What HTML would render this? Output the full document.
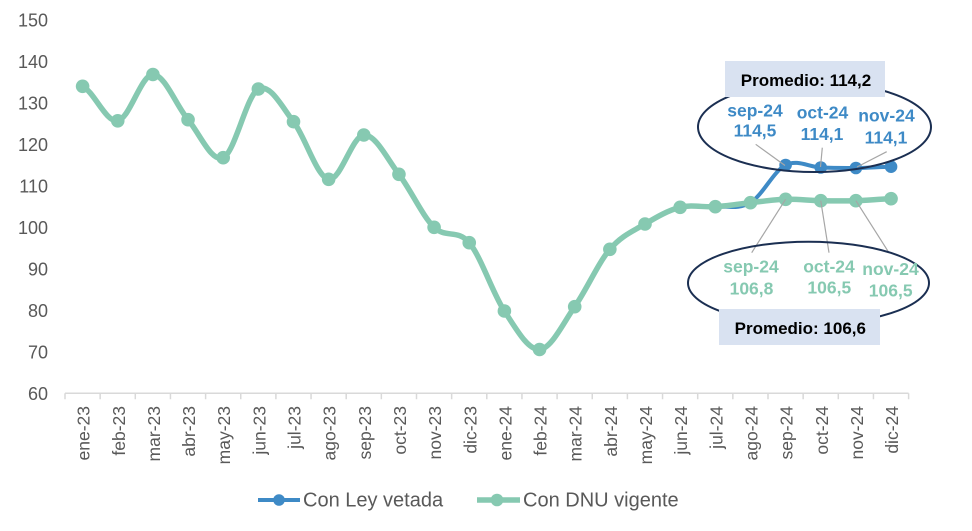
<!DOCTYPE html>
<html>
<head>
<meta charset="utf-8">
<style>
  html, body { margin:0; padding:0; background:#ffffff; }
  svg { display:block; }
  text { font-family: "Liberation Sans", Arial, sans-serif; }
</style>
</head>
<body>
<svg width="972" height="531" viewBox="0 0 972 531" xmlns="http://www.w3.org/2000/svg">
  <rect x="0" y="0" width="972" height="531" fill="#ffffff"/>

  <!-- Y axis labels -->
  <g font-size="18" fill="#595959" text-anchor="end">
    <text x="48" y="26.5">150</text>
    <text x="48" y="68">140</text>
    <text x="48" y="109.5">130</text>
    <text x="48" y="151">120</text>
    <text x="48" y="192.5">110</text>
    <text x="48" y="234">100</text>
    <text x="48" y="275.5">90</text>
    <text x="48" y="317">80</text>
    <text x="48" y="358.5">70</text>
    <text x="48" y="400">60</text>
  </g>

  <!-- X axis -->
  <g stroke="#D9D9D9" stroke-width="1.5" fill="none">
    <line x1="65" y1="393.3" x2="908.6" y2="393.3"/>
    <path d="M65,393.3v6 M100.15,393.3v6 M135.3,393.3v6 M170.45,393.3v6 M205.6,393.3v6 M240.75,393.3v6 M275.9,393.3v6 M311.05,393.3v6 M346.2,393.3v6 M381.35,393.3v6 M416.5,393.3v6 M451.65,393.3v6 M486.8,393.3v6 M521.95,393.3v6 M557.1,393.3v6 M592.25,393.3v6 M627.4,393.3v6 M662.55,393.3v6 M697.7,393.3v6 M732.85,393.3v6 M768,393.3v6 M803.15,393.3v6 M838.3,393.3v6 M873.45,393.3v6 M908.6,393.3v6"/>
  </g>

  <!-- X axis labels -->
  <g font-size="17.5" fill="#595959" text-anchor="end">
    <text transform="translate(89.6,406) rotate(-90)">ene-23</text>
    <text transform="translate(124.75,406) rotate(-90)">feb-23</text>
    <text transform="translate(159.9,406) rotate(-90)">mar-23</text>
    <text transform="translate(195.05,406) rotate(-90)">abr-23</text>
    <text transform="translate(230.2,406) rotate(-90)">may-23</text>
    <text transform="translate(265.35,406) rotate(-90)">jun-23</text>
    <text transform="translate(300.5,406) rotate(-90)">jul-23</text>
    <text transform="translate(335.65,406) rotate(-90)">ago-23</text>
    <text transform="translate(370.8,406) rotate(-90)">sep-23</text>
    <text transform="translate(405.95,406) rotate(-90)">oct-23</text>
    <text transform="translate(441.1,406) rotate(-90)">nov-23</text>
    <text transform="translate(476.25,406) rotate(-90)">dic-23</text>
    <text transform="translate(511.4,406) rotate(-90)">ene-24</text>
    <text transform="translate(546.55,406) rotate(-90)">feb-24</text>
    <text transform="translate(581.7,406) rotate(-90)">mar-24</text>
    <text transform="translate(616.85,406) rotate(-90)">abr-24</text>
    <text transform="translate(652,406) rotate(-90)">may-24</text>
    <text transform="translate(687.15,406) rotate(-90)">jun-24</text>
    <text transform="translate(722.3,406) rotate(-90)">jul-24</text>
    <text transform="translate(757.45,406) rotate(-90)">ago-24</text>
    <text transform="translate(792.6,406) rotate(-90)">sep-24</text>
    <text transform="translate(827.75,406) rotate(-90)">oct-24</text>
    <text transform="translate(862.9,406) rotate(-90)">nov-24</text>
    <text transform="translate(898.05,406) rotate(-90)">dic-24</text>
  </g>

  <!-- Blue series (Con Ley vetada) -->
  <path fill="none" stroke="#3E8AC6" stroke-width="4" stroke-linejoin="round" stroke-linecap="round"
    d="M680.15,207.3 C691.87,204.42 703.58,207.47 715.3,206.7 C727.02,205.93 738.73,209.65 750.45,202.7 C762.17,195.75 773.88,170.87 785.6,165 C797.32,159.13 809.03,167.0 820.75,167.5 C832.47,168.0 844.18,168.13 855.9,168.0 C867.62,167.87 879.33,166.92 891.05,166.7"/>
  <g fill="#3E8AC6">
    <circle cx="785.6" cy="165" r="6.3"/>
    <circle cx="820.75" cy="167.5" r="6.3"/>
    <circle cx="855.9" cy="168" r="6.3"/>
    <circle cx="891.05" cy="166.7" r="6.3"/>
  </g>

  <!-- Green series (Con DNU vigente) -->
  <path fill="none" stroke="#86C9B1" stroke-width="5.5" stroke-linejoin="round" stroke-linecap="round"
    d="M82.6,86.3 C94.32,92.05 106.03,122.77 117.75,120.8 C129.47,118.83 141.18,74.68 152.9,74.5 C164.62,74.32 176.33,105.83 188.05,119.7 C199.77,133.57 211.48,162.82 223.2,157.7 C234.92,152.58 246.63,95.0 258.35,89.0 C270.07,83.0 281.78,106.65 293.5,121.7 C305.22,136.75 316.93,177.08 328.65,179.3 C340.37,181.52 352.08,135.83 363.8,135.0 C375.52,134.17 387.23,158.92 398.95,174.3 C410.67,189.68 422.38,215.9 434.1,227.3 C445.82,238.7 457.53,228.75 469.25,242.7 C480.97,256.65 492.68,293.2 504.4,311.0 C516.12,328.8 527.83,350.22 539.55,349.5 C551.27,348.78 562.98,323.4 574.7,306.7 C586.42,290.0 598.13,263.08 609.85,249.3 C621.57,235.52 633.28,231.0 645.0,224.0 C656.72,217.0 668.43,210.18 680.15,207.3 C691.87,204.42 703.58,207.47 715.3,206.7 C727.02,205.93 738.73,203.93 750.45,202.7 C762.17,201.47 773.88,199.63 785.6,199.3 C797.32,198.97 809.03,200.47 820.75,200.7 C832.47,200.93 844.18,201.03 855.9,200.7 C867.62,200.37 879.33,199.03 891.05,198.7"/>
  <g fill="#86C9B1">
    <circle cx="82.6" cy="86.3" r="6.8"/>
    <circle cx="117.75" cy="120.8" r="6.8"/>
    <circle cx="152.9" cy="74.5" r="6.8"/>
    <circle cx="188.05" cy="119.7" r="6.8"/>
    <circle cx="223.2" cy="157.7" r="6.8"/>
    <circle cx="258.35" cy="89.0" r="6.8"/>
    <circle cx="293.5" cy="121.7" r="6.8"/>
    <circle cx="328.65" cy="179.3" r="6.8"/>
    <circle cx="363.8" cy="135.0" r="6.8"/>
    <circle cx="398.95" cy="174.3" r="6.8"/>
    <circle cx="434.1" cy="227.3" r="6.8"/>
    <circle cx="469.25" cy="242.7" r="6.8"/>
    <circle cx="504.4" cy="311.0" r="6.8"/>
    <circle cx="539.55" cy="349.5" r="6.8"/>
    <circle cx="574.7" cy="306.7" r="6.8"/>
    <circle cx="609.85" cy="249.3" r="6.8"/>
    <circle cx="645.0" cy="224.0" r="6.8"/>
    <circle cx="680.15" cy="207.3" r="6.8"/>
    <circle cx="715.3" cy="206.7" r="6.8"/>
    <circle cx="750.45" cy="202.7" r="6.8"/>
    <circle cx="785.6" cy="199.3" r="6.8"/>
    <circle cx="820.75" cy="200.7" r="6.8"/>
    <circle cx="855.9" cy="200.7" r="6.8"/>
    <circle cx="891.05" cy="198.7" r="6.8"/>
  </g>

  <!-- Leader lines -->
  <g stroke="#A6A6A6" stroke-width="1.2" fill="none">
    <line x1="755.7" y1="144.3" x2="785" y2="165.5"/>
    <line x1="822.3" y1="147.7" x2="820.5" y2="167"/>
    <line x1="886.7" y1="151.7" x2="857" y2="167"/>
    <line x1="785.6" y1="199.3" x2="751.7" y2="252.7"/>
    <line x1="820.75" y1="200.7" x2="829" y2="252.7"/>
    <line x1="855.9" y1="200.7" x2="888.3" y2="251.7"/>
  </g>

  <!-- Ellipses -->
  <ellipse cx="814.5" cy="127" rx="116.5" ry="45" fill="none" stroke="#1B2F52" stroke-width="2"/>
  <ellipse cx="808.5" cy="283" rx="120.5" ry="41.3" fill="none" stroke="#1B2F52" stroke-width="2"/>

  <!-- Upper labels -->
  <g font-size="17.5" font-weight="bold" fill="#3E8AC6" text-anchor="middle">
    <text x="755" y="116.5">sep-24</text>
    <text x="755" y="136.7">114,5</text>
    <text x="822.5" y="118.3">oct-24</text>
    <text x="822" y="140">114,1</text>
    <text x="886.5" y="121.7">nov-24</text>
    <text x="886" y="143.3">114,1</text>
  </g>

  <!-- Lower labels -->
  <g font-size="17.5" font-weight="bold" fill="#86C9B1" text-anchor="middle">
    <text x="751" y="272.7">sep-24</text>
    <text x="751.5" y="294.3">106,8</text>
    <text x="829" y="272.7">oct-24</text>
    <text x="829.3" y="293.3">106,5</text>
    <text x="890.5" y="275">nov-24</text>
    <text x="890.7" y="296.7">106,5</text>
  </g>

  <!-- Promedio boxes -->
  <rect x="725" y="61" width="160" height="36" fill="#D9E2F1"/>
  <text x="806" y="86" font-size="17" font-weight="bold" fill="#000000" text-anchor="middle">Promedio: 114,2</text>
  <rect x="719" y="309" width="161" height="36" fill="#D9E2F1"/>
  <text x="800.3" y="334" font-size="17" font-weight="bold" fill="#000000" text-anchor="middle">Promedio: 106,6</text>

  <!-- Legend -->
  <line x1="258" y1="500" x2="300" y2="500" stroke="#3E8AC6" stroke-width="4"/>
  <circle cx="279" cy="500" r="5.8" fill="#3E8AC6"/>
  <text x="303" y="506.5" font-size="20" fill="#595959">Con Ley vetada</text>
  <line x1="477" y1="500" x2="520" y2="500" stroke="#86C9B1" stroke-width="5.5"/>
  <circle cx="497" cy="500" r="6.3" fill="#86C9B1"/>
  <text x="523" y="506.5" font-size="20" fill="#595959">Con DNU vigente</text>
</svg>
</body>
</html>
